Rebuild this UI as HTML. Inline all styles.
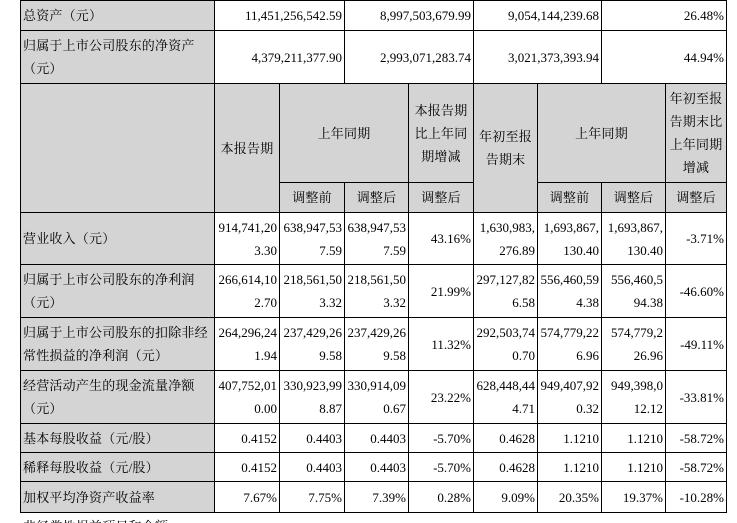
<!DOCTYPE html>
<html><head><meta charset="utf-8">
<style>
html,body{margin:0;padding:0;background:#fff;width:737px;height:523px;overflow:hidden;}
#wrap{position:relative;width:737px;height:523px;overflow:hidden;font-family:"Liberation Serif","Noto Serif CJK SC",serif;font-size:13px;color:#000;background:#fff;}
.c{position:absolute;box-sizing:border-box;border-left:1px solid #000;border-top:1px solid #000;display:flex;align-items:center;line-height:23px;white-space:nowrap;}
.c>div{width:100%;}
.g{background:#d4d4d4;}
.l{padding-left:2px;text-align:left;letter-spacing:0.2px;}
.r{padding-right:2px;text-align:right;}
.m{text-align:center;letter-spacing:0.2px;}
.ln{position:absolute;background:#000;}
</style></head><body><div id="wrap">

<!-- top rows -->
<div class="c g l" style="left:20px;top:0;width:194px;height:30px"><div>总资产（元）</div></div>
<div class="c r" style="left:214px;top:0;width:130px;height:30px"><div>11,451,256,542.59</div></div>
<div class="c r" style="left:344px;top:0;width:129px;height:30px"><div>8,997,503,679.99</div></div>
<div class="c r" style="left:473px;top:0;width:128px;height:30px"><div>9,054,144,239.68</div></div>
<div class="c r" style="left:601px;top:0;width:125px;height:30px"><div>26.48%</div></div>

<div class="c g l" style="left:20px;top:30px;width:194px;height:53px"><div>归属于上市公司股东的净资产<br>（元）</div></div>
<div class="c r" style="left:214px;top:30px;width:130px;height:53px"><div>4,379,211,377.90</div></div>
<div class="c r" style="left:344px;top:30px;width:129px;height:53px"><div>2,993,071,283.74</div></div>
<div class="c r" style="left:473px;top:30px;width:128px;height:53px"><div>3,021,373,393.94</div></div>
<div class="c r" style="left:601px;top:30px;width:125px;height:53px"><div>44.94%</div></div>

<!-- header -->
<div class="c g" style="left:20px;top:83px;width:194px;height:129px"></div>
<div class="c g m" style="left:214px;top:83px;width:65px;height:129px"><div>本报告期</div></div>
<div class="c g m" style="left:279px;top:83px;width:129px;height:99px"><div>上年同期</div></div>
<div class="c g m" style="left:279px;top:182px;width:65px;height:30px"><div>调整前</div></div>
<div class="c g m" style="left:344px;top:182px;width:64px;height:30px"><div>调整后</div></div>
<div class="c g m" style="left:408px;top:83px;width:65px;height:99px"><div>本报告期<br>比上年同<br>期增减</div></div>
<div class="c g m" style="left:408px;top:182px;width:65px;height:30px"><div>调整后</div></div>
<div class="c g m" style="left:473px;top:83px;width:64px;height:129px"><div>年初至报<br>告期末</div></div>
<div class="c g m" style="left:537px;top:83px;width:128px;height:99px"><div>上年同期</div></div>
<div class="c g m" style="left:537px;top:182px;width:64px;height:30px"><div>调整前</div></div>
<div class="c g m" style="left:601px;top:182px;width:64px;height:30px"><div>调整后</div></div>
<div class="c g m" style="left:665px;top:83px;width:61px;height:99px"><div>年初至报<br>告期末比<br>上年同期<br>增减</div></div>
<div class="c g m" style="left:665px;top:182px;width:61px;height:30px"><div>调整后</div></div>

<!-- row: 营业收入 -->
<div class="c g l" style="left:20px;top:212px;width:194px;height:52px"><div>营业收入（元）</div></div>
<div class="c r" style="left:214px;top:212px;width:65px;height:52px"><div>914,741,20<br>3.30</div></div>
<div class="c r" style="left:279px;top:212px;width:65px;height:52px"><div>638,947,53<br>7.59</div></div>
<div class="c r" style="left:344px;top:212px;width:64px;height:52px"><div>638,947,53<br>7.59</div></div>
<div class="c r" style="left:408px;top:212px;width:65px;height:52px"><div>43.16%</div></div>
<div class="c r" style="left:473px;top:212px;width:64px;height:52px"><div>1,630,983,<br>276.89</div></div>
<div class="c r" style="left:537px;top:212px;width:64px;height:52px"><div>1,693,867,<br>130.40</div></div>
<div class="c r" style="left:601px;top:212px;width:64px;height:52px"><div>1,693,867,<br>130.40</div></div>
<div class="c r" style="left:665px;top:212px;width:61px;height:52px"><div>-3.71%</div></div>

<!-- row: 净利润 -->
<div class="c g l" style="left:20px;top:264px;width:194px;height:53px"><div>归属于上市公司股东的净利润<br>（元）</div></div>
<div class="c r" style="left:214px;top:264px;width:65px;height:53px"><div>266,614,10<br>2.70</div></div>
<div class="c r" style="left:279px;top:264px;width:65px;height:53px"><div>218,561,50<br>3.32</div></div>
<div class="c r" style="left:344px;top:264px;width:64px;height:53px"><div>218,561,50<br>3.32</div></div>
<div class="c r" style="left:408px;top:264px;width:65px;height:53px"><div>21.99%</div></div>
<div class="c r" style="left:473px;top:264px;width:64px;height:53px"><div>297,127,82<br>6.58</div></div>
<div class="c r" style="left:537px;top:264px;width:64px;height:53px"><div>556,460,59<br>4.38</div></div>
<div class="c r" style="left:601px;top:264px;width:64px;height:53px"><div>556,460,5<br>94.38</div></div>
<div class="c r" style="left:665px;top:264px;width:61px;height:53px"><div>-46.60%</div></div>

<!-- row: 扣非 -->
<div class="c g l" style="left:20px;top:317px;width:194px;height:53px"><div>归属于上市公司股东的扣除非经<br>常性损益的净利润（元）</div></div>
<div class="c r" style="left:214px;top:317px;width:65px;height:53px"><div>264,296,24<br>1.94</div></div>
<div class="c r" style="left:279px;top:317px;width:65px;height:53px"><div>237,429,26<br>9.58</div></div>
<div class="c r" style="left:344px;top:317px;width:64px;height:53px"><div>237,429,26<br>9.58</div></div>
<div class="c r" style="left:408px;top:317px;width:65px;height:53px"><div>11.32%</div></div>
<div class="c r" style="left:473px;top:317px;width:64px;height:53px"><div>292,503,74<br>0.70</div></div>
<div class="c r" style="left:537px;top:317px;width:64px;height:53px"><div>574,779,22<br>6.96</div></div>
<div class="c r" style="left:601px;top:317px;width:64px;height:53px"><div>574,779,2<br>26.96</div></div>
<div class="c r" style="left:665px;top:317px;width:61px;height:53px"><div>-49.11%</div></div>

<!-- row: 现金流 -->
<div class="c g l" style="left:20px;top:370px;width:194px;height:53px"><div>经营活动产生的现金流量净额<br>（元）</div></div>
<div class="c r" style="left:214px;top:370px;width:65px;height:53px"><div>407,752,01<br>0.00</div></div>
<div class="c r" style="left:279px;top:370px;width:65px;height:53px"><div>330,923,99<br>8.87</div></div>
<div class="c r" style="left:344px;top:370px;width:64px;height:53px"><div>330,914,09<br>0.67</div></div>
<div class="c r" style="left:408px;top:370px;width:65px;height:53px"><div>23.22%</div></div>
<div class="c r" style="left:473px;top:370px;width:64px;height:53px"><div>628,448,44<br>4.71</div></div>
<div class="c r" style="left:537px;top:370px;width:64px;height:53px"><div>949,407,92<br>0.32</div></div>
<div class="c r" style="left:601px;top:370px;width:64px;height:53px"><div>949,398,0<br>12.12</div></div>
<div class="c r" style="left:665px;top:370px;width:61px;height:53px"><div>-33.81%</div></div>

<!-- row: 基本每股收益 -->
<div class="c g l" style="left:20px;top:423px;width:194px;height:29px"><div>基本每股收益（元/股）</div></div>
<div class="c r" style="left:214px;top:423px;width:65px;height:29px"><div>0.4152</div></div>
<div class="c r" style="left:279px;top:423px;width:65px;height:29px"><div>0.4403</div></div>
<div class="c r" style="left:344px;top:423px;width:64px;height:29px"><div>0.4403</div></div>
<div class="c r" style="left:408px;top:423px;width:65px;height:29px"><div>-5.70%</div></div>
<div class="c r" style="left:473px;top:423px;width:64px;height:29px"><div>0.4628</div></div>
<div class="c r" style="left:537px;top:423px;width:64px;height:29px"><div>1.1210</div></div>
<div class="c r" style="left:601px;top:423px;width:64px;height:29px"><div>1.1210</div></div>
<div class="c r" style="left:665px;top:423px;width:61px;height:29px"><div>-58.72%</div></div>

<!-- row: 稀释每股收益 -->
<div class="c g l" style="left:20px;top:452px;width:194px;height:29px"><div>稀释每股收益（元/股）</div></div>
<div class="c r" style="left:214px;top:452px;width:65px;height:29px"><div>0.4152</div></div>
<div class="c r" style="left:279px;top:452px;width:65px;height:29px"><div>0.4403</div></div>
<div class="c r" style="left:344px;top:452px;width:64px;height:29px"><div>0.4403</div></div>
<div class="c r" style="left:408px;top:452px;width:65px;height:29px"><div>-5.70%</div></div>
<div class="c r" style="left:473px;top:452px;width:64px;height:29px"><div>0.4628</div></div>
<div class="c r" style="left:537px;top:452px;width:64px;height:29px"><div>1.1210</div></div>
<div class="c r" style="left:601px;top:452px;width:64px;height:29px"><div>1.1210</div></div>
<div class="c r" style="left:665px;top:452px;width:61px;height:29px"><div>-58.72%</div></div>

<!-- row: 加权平均 -->
<div class="c g l" style="left:20px;top:481px;width:194px;height:31px"><div>加权平均净资产收益率</div></div>
<div class="c r" style="left:214px;top:481px;width:65px;height:31px"><div>7.67%</div></div>
<div class="c r" style="left:279px;top:481px;width:65px;height:31px"><div>7.75%</div></div>
<div class="c r" style="left:344px;top:481px;width:64px;height:31px"><div>7.39%</div></div>
<div class="c r" style="left:408px;top:481px;width:65px;height:31px"><div>0.28%</div></div>
<div class="c r" style="left:473px;top:481px;width:64px;height:31px"><div>9.09%</div></div>
<div class="c r" style="left:537px;top:481px;width:64px;height:31px"><div>20.35%</div></div>
<div class="c r" style="left:601px;top:481px;width:64px;height:31px"><div>19.37%</div></div>
<div class="c r" style="left:665px;top:481px;width:61px;height:31px"><div>-10.28%</div></div>

<!-- outer right & bottom borders -->
<div class="ln" style="left:726px;top:0;width:1px;height:513px"></div>
<div class="ln" style="left:20px;top:512px;width:707px;height:1px"></div>

<!-- cut-off text below table -->
<div style="position:absolute;left:23px;top:520px;line-height:14px;font-size:13px;letter-spacing:0.2px;white-space:nowrap;">非经常性损益项目和金额</div>

</div></body></html>
